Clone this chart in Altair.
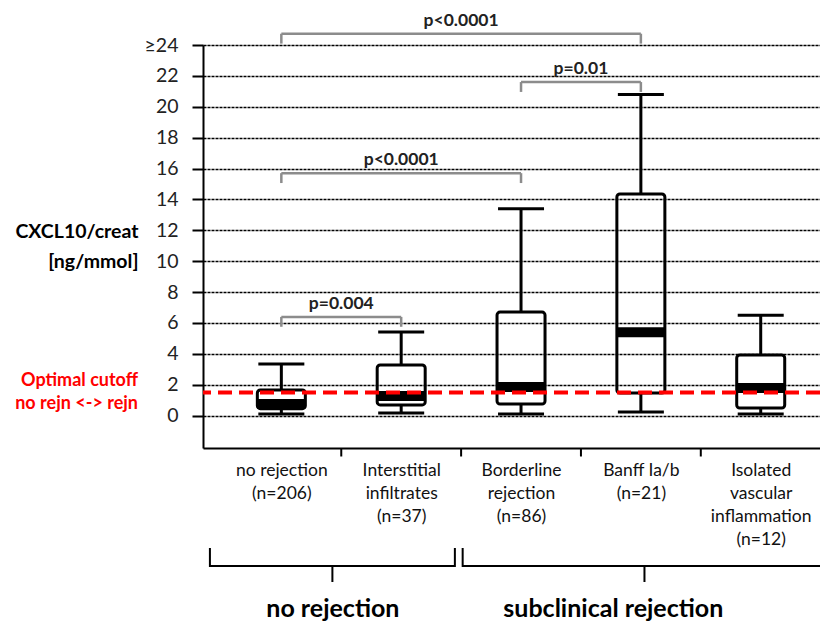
import json
import altair as alt
import pandas as pd

# ---------------- data ----------------
categories = ["no rejection", "Interstitial infiltrates", "Borderline rejection",
              "Banff Ia/b", "Isolated vascular inflammation"]
positions = [1, 2, 3, 4, 5]
label_lines = [["no rejection", "(n=206)"],
               ["Interstitial", "infiltrates", "(n=37)"],
               ["Borderline", "rejection", "(n=86)"],
               ["Banff Ia/b", "(n=21)"],
               ["Isolated", "vascular", "inflammation", "(n=12)"]]
whisker_low = [0.10, 0.17, 0.10, 0.23, 0.10]
q1 = [0.45, 0.69, 0.75, 1.46, 0.49]
median = [0.75, 1.27, 1.85, 5.40, 1.79]
q3 = [1.66, 3.28, 6.70, 14.35, 3.93]
whisker_high = [3.34, 5.41, 13.40, 20.80, 6.50]

y_ticks = list(range(0, 25, 2))
cutoff = 1.5
cutoff_text = ["Optimal cutoff", "no rejn <-> rejn"]

bracket_from = [1, 1, 3, 1]
bracket_to = [2, 3, 4, 4]
bracket_level = [6.39, 15.7, 21.6, 24.73]
bracket_label = ["p=0.004", "p<0.0001", "p=0.01", "p<0.0001"]
bracket_leg = 0.64

group_names = ["no rejection", "subclinical rejection"]
group_from = [0.404, 2.513]
group_to = [2.448, 5.62]
group_tip = [1.426, 4.03]
group_label_x = [1.43, 3.77]
brace_top = -8.58
brace_mid = -9.74
brace_tip = -10.78
group_label_y = -12.5

divider_x = [1.5, 2.5, 3.5, 4.5]
x_domain = [0.388, 5.453]
y_domain = [-2.1, 24]

FONT = "Lato"

# ---------------- tables ----------------
boxes = pd.DataFrame({"cat": categories, "pos": positions, "lo": whisker_low,
                      "q1": q1, "med": median, "q3": q3, "hi": whisker_high})
brackets = pd.DataFrame({"from": bracket_from, "to": bracket_to,
                         "level": bracket_level, "label": bracket_label})
brackets["mid"] = (brackets["from"] + brackets["to"]) / 2
legs = pd.DataFrame({"x": bracket_from + bracket_to,
                     "level": bracket_level * 2})
legs["legend"] = legs["level"] - bracket_leg

brace_rows = []
for g, (a, b, t) in enumerate(zip(group_from, group_to, group_tip)):
    pts = [(a, brace_top), (a, brace_mid), (t, brace_mid), (t, brace_tip),
           (t, brace_mid), (b, brace_mid), (b, brace_top)]
    for i, (px, py) in enumerate(pts):
        brace_rows.append({"g": g, "i": i, "x": px, "y": py})
braces = pd.DataFrame(brace_rows)
groups = pd.DataFrame({"name": group_names, "x": group_label_x,
                       "y": [group_label_y] * len(group_names)})
dividers = pd.DataFrame({"x": divider_x, "y0": [y_domain[0]] * len(divider_x),
                         "y1": [y_domain[0] - 0.55] * len(divider_x)})
cut = pd.DataFrame({"cutoff": [cutoff]})

# ---------------- scales / axes ----------------
xs = alt.Scale(domain=x_domain, nice=False, zero=False)
ys = alt.Scale(domain=y_domain, nice=False, zero=False)

label_expr = "[" + ",".join(json.dumps(l) for l in label_lines) + "][datum.value - 1]"
x_axis = alt.Axis(values=positions, labelExpr=label_expr, ticks=False, tickSize=0,
                  grid=False, domainColor="#000", domainWidth=2, labelFontSize=17.5,
                  labelColor="#111", labelBaseline="top", labelLineHeight=23,
                  labelPadding=13, labelFlush=False, labelOverlap=False, title=None,
                  labelFont=FONT)
y_axis = alt.Axis(values=y_ticks, labelExpr="datum.value >= 24 ? '≥24' : datum.label",
                  grid=True, gridColor="#000", gridDash=[3, 1], gridWidth=1.4,
                  tickSize=11, tickWidth=2, tickColor="#000", domainColor="#000",
                  domainWidth=2, labelFontSize=19.5, labelColor="#222", labelPadding=14,
                  labelFont=FONT,
                  title=["CXCL10/creat", "[ng/mmol]"], titleAngle=0, titleAlign="right",
                  titleBaseline="middle", titleX=-65, titleY=186, titleFontSize=19.5,
                  titleFontWeight="bold", titleLineHeight=30, titleColor="#000",
                  titleFont=FONT)


def X(f):
    return alt.X(f"{f}:Q", scale=xs, axis=x_axis)


def Y(f):
    return alt.Y(f"{f}:Q", scale=ys, axis=y_axis)


# ---------------- layers ----------------
box_base = alt.Chart(boxes)
whisk_up = box_base.mark_rule(color="#000", strokeWidth=3).encode(x=X("pos"), y=Y("q3"), y2="hi")
whisk_dn = box_base.mark_rule(color="#000", strokeWidth=3).encode(x=X("pos"), y=Y("lo"), y2="q1")
cap_hi = box_base.mark_tick(orient="horizontal", size=46, thickness=3, color="#000",
                            opacity=1).encode(x=X("pos"), y=Y("hi"))
cap_lo = box_base.mark_tick(orient="horizontal", size=46, thickness=3, color="#000",
                            opacity=1).encode(x=X("pos"), y=Y("lo"))
box = box_base.mark_bar(size=48, fill="#fff", fillOpacity=0, stroke="#000",
                        strokeWidth=3, cornerRadius=3).encode(x=X("pos"), y=Y("q1"), y2="q3")
med = box_base.mark_tick(orient="horizontal", size=48, thickness=10, color="#000",
                         opacity=1).encode(x=X("pos"), y=Y("med"))

red_line = alt.Chart(cut).mark_rule(color="#ff0000", strokeWidth=4,
                                    strokeDash=[14, 7]).encode(y=Y("cutoff"))
red_text = alt.Chart(cut).mark_text(text=cutoff_text, align="right", baseline="middle",
                                    fontSize=18, fontWeight="bold", color="#ff0000",
                                    lineHeight=23, dy=-11.5, font=FONT).encode(
    x=alt.value(-65), y=Y("cutoff"))

br_h = alt.Chart(brackets).mark_rule(color="#8c8c8c", strokeWidth=2.5).encode(
    x=X("from"), x2="to", y=Y("level"))
br_v = alt.Chart(legs).mark_rule(color="#8c8c8c", strokeWidth=2.5).encode(
    x=X("x"), y=Y("level"), y2="legend")
br_t = alt.Chart(brackets).mark_text(fontSize=17.5, fontWeight="bold", color="#222",
                                     baseline="middle", dy=-13, font=FONT).encode(
    x=X("mid"), y=Y("level"), text="label:N")

brace = alt.Chart(braces).mark_line(color="#000", strokeWidth=2).encode(
    x=X("x"), y=Y("y"), detail="g:N", order="i:Q")
group_t = alt.Chart(groups).mark_text(fontSize=25, fontWeight="bold", color="#000",
                                      baseline="middle", font=FONT).encode(
    x=X("x"), y=Y("y"), text="name:N")
div = alt.Chart(dividers).mark_rule(color="#000", strokeWidth=2).encode(
    x=X("x"), y=Y("y0"), y2="y1")

chart = alt.layer(
    whisk_up, whisk_dn, cap_hi, cap_lo, box, med, red_line, red_text,
    br_h, br_v, br_t, brace, group_t, div
).properties(
    width=617, height=403,
    autosize=alt.AutoSizeParams(type="none"),
    padding={"left": 195, "top": 37, "right": 0, "bottom": 174},
).configure_view(stroke=None).configure(font=FONT)

chart.save("out.html", embed_options={"renderer": "svg", "actions": False})
